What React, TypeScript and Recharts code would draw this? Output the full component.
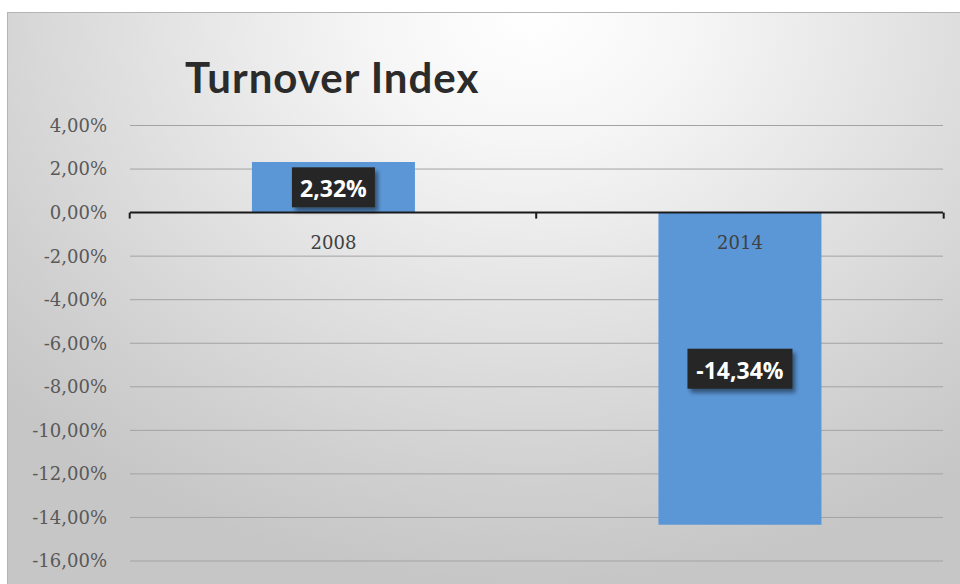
import React from 'react';
import { BarChart, Bar, XAxis, YAxis, CartesianGrid, ReferenceLine, LabelList } from 'recharts';

const years = ['2008', '2014'];
const turnover = [2.32, -14.34];
const yTicks = [4, 2, 0, -2, -4, -6, -8, -10, -12, -14, -16];

const data = years.map((year, i) => ({ year, value: turnover[i] }));

const fmt = (v: number) => `${v.toFixed(2).replace('.', ',')}%`;

// bar occupies 40% of its band (barCategoryGap 30% each side)
const BAR_SHARE = 0.4;

const CategoryLabel = (props: any) => {
    const vb = props.viewBox || props;
    const { x, y, width, height } = vb;
    const idx = years.indexOf(String(props.value));
    const v = turnover[idx];
    const zeroY = v >= 0 ? Math.max(y, y + height) : Math.min(y, y + height);
    const cx = x + width / 2;
    const band = width / BAR_SHARE;
    const left = cx - band / 2;
    const right = cx + band / 2;
    return (
        <g>
            <line x1={left} x2={left} y1={zeroY} y2={zeroY + 6} stroke="#1a1a1a" strokeWidth={2} />
            {idx === years.length - 1 && (
                <line x1={right} x2={right} y1={zeroY} y2={zeroY + 6} stroke="#1a1a1a" strokeWidth={2} />
            )}
            <text
                x={cx}
                y={zeroY + 30}
                textAnchor="middle"
                dominantBaseline="central"
                fontFamily="DejaVu Serif"
                fontSize={18}
                fill="#404040"
            >
                {props.value}
            </text>
        </g>
    );
};

const ValueLabel = (props: any) => {
    const vb = props.viewBox || props;
    const { x, y, width, height } = vb;
    const v = Number(props.value);
    const text = fmt(v);
    const cx = x + width / 2;
    const cy = y + height / 2;
    const w = text.length * 11 + 28;
    const h = 40;
    return (
        <g>
            <rect
                x={cx - w / 2}
                y={cy - h / 2}
                width={w}
                height={h}
                fill="#262626"
                filter="url(#lblShadow)"
            />
            <text
                x={cx}
                y={cy + 1}
                textAnchor="middle"
                dominantBaseline="central"
                fontFamily="Open Sans"
                fontWeight="bold"
                fontSize={23}
                fill="#ffffff"
            >
                {text}
            </text>
        </g>
    );
};

const App: React.FC = () => {
    return (
        <div
            style={{
                position: 'absolute',
                left: 7,
                top: 12,
                width: 953,
                height: 572,
                borderTop: '1px solid #b4b4b4',
                borderLeft: '1px solid #b4b4b4',
                boxSizing: 'border-box',
                background:
                    'radial-gradient(ellipse 75% 100% at 55% 0%, #ffffff 0%, #f6f6f6 22%, #e3e3e3 52%, #d0d0d0 82%, #c6c6c6 100%)',
                overflow: 'hidden'
            }}
        >
            <div
                style={{
                    position: 'absolute',
                    left: 177,
                    top: 43,
                    fontFamily: 'Lato',
                    fontWeight: 'bold',
                    fontSize: 42,
                    letterSpacing: 1,
                    lineHeight: '42px',
                    color: '#2b2b2b',
                    whiteSpace: 'nowrap'
                }}
            >
                Turnover Index
            </div>
            <div style={{ position: 'absolute', left: -1, top: -1 }}>
                <BarChart
                    width={953}
                    height={572}
                    data={data}
                    margin={{ top: 113.5, right: 17, bottom: 23, left: 0 }}
                    barCategoryGap="30%"
                >
                    <defs>
                        <filter id="lblShadow" x="-20%" y="-20%" width="150%" height="160%">
                            <feDropShadow dx={3} dy={4} stdDeviation={2} floodColor="#000" floodOpacity={0.45} />
                        </filter>
                    </defs>
                    <CartesianGrid horizontal vertical={false} stroke="#a3a3a3" strokeWidth={1} />
                    <XAxis dataKey="year" hide />
                    <YAxis
                        domain={[-16, 4]}
                        ticks={yTicks}
                        interval={0}
                        width={123}
                        axisLine={false}
                        tickLine={false}
                        tickSize={0}
                        tickMargin={23}
                        tickFormatter={fmt}
                        tick={{ fill: '#595959', fontSize: 18, fontFamily: 'DejaVu Serif' }}
                    />
                    <Bar dataKey="value" fill="#5b97d6" isAnimationActive={false}>
                        <LabelList dataKey="year" content={CategoryLabel} />
                        <LabelList dataKey="value" content={ValueLabel} />
                    </Bar>
                    <ReferenceLine y={0} stroke="#1a1a1a" strokeWidth={2} />
                </BarChart>
            </div>
        </div>
    );
};

export default App;
